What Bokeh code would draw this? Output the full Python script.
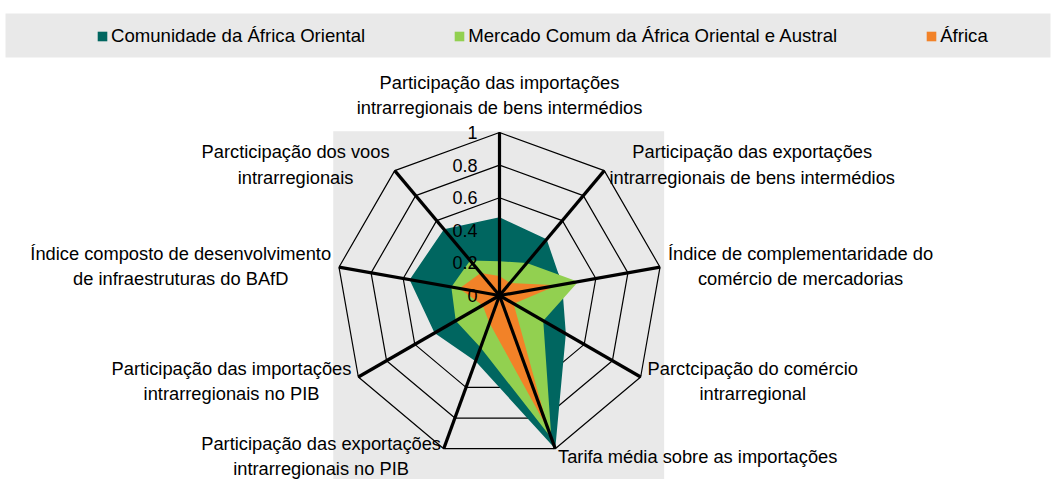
import numpy as np
from bokeh.plotting import figure
from bokeh.models import Range1d, Legend, LegendItem
from bokeh.core.properties import value
from bokeh.embed import file_html
from bokeh.resources import INLINE

# ---------------- data ----------------
categories = [
    "Participação das importações\nintrarregionais de bens intermédios",
    "Participação das exportações\nintrarregionais de bens intermédios",
    "Índice de complementaridade do\ncomércio de mercadorias",
    "Parctcipação do comércio\nintrarregional",
    "Tarifa média sobre as importações",
    "Participação das exportações\nintrarregionais no PIB",
    "Participação das importações\nintrarregionais no PIB",
    "Índice composto de desenvolvimento\nde infraestruturas do BAfD",
    "Parcticipação dos voos\nintrarregionais",
]
eac = [0.48, 0.45, 0.39, 0.47, 1.00, 0.43, 0.46, 0.56, 0.53]
comesa = [0.21, 0.26, 0.49, 0.31, 0.93, 0.34, 0.31, 0.30, 0.28]
africa = [0.12, 0.10, 0.36, 0.10, 0.88, 0.18, 0.12, 0.25, 0.18]
series_names = ["Comunidade da África Oriental",
                "Mercado Comum da África Oriental e Austral",
                "África"]
series_colors = ["#006660", "#92D050", "#F28228"]
ticks = [0, 0.2, 0.4, 0.6, 0.8, 1.0]
tick_labels = ["0", "0.2", "0.4", "0.6", "0.8", "1"]

# ---------------- layout ----------------
W, H = 1055, 479
R_PX = 163.0           # pixels per data unit (radius of 1.0)
CX, CY = 499, 295      # centre of radar in figure pixels
PX = 1.0 / R_PX
FONT_NAME = "Liberation Sans"
FONT = value(FONT_NAME)

p = figure(width=W, height=H, output_backend="svg", toolbar_location=None,
           x_axis_type=None, y_axis_type=None,
           x_range=Range1d(-CX * PX, (W - CX) * PX),
           y_range=Range1d(-(H - CY) * PX, CY * PX),
           min_border=0, min_border_left=0, min_border_right=0,
           min_border_top=0, min_border_bottom=0)
p.outline_line_color = None
p.xgrid.visible = False
p.ygrid.visible = False
p.background_fill_color = "white"
p.border_fill_color = "white"

GRAY = "#E9E9E9"
# legend band
p.quad(left=(5 - CX) * PX, right=(1050 - CX) * PX,
       top=(CY - 13) * PX, bottom=(CY - 57) * PX,
       fill_color=GRAY, line_color=None)
# plot-area band behind the radar
p.quad(left=-1.02, right=1.01, top=1.007, bottom=p.y_range.start,
       fill_color=GRAY, line_color=None)

n = len(categories)
theta = np.arange(n) * 2 * np.pi / n
sx, cy_ = np.sin(theta), np.cos(theta)

# grid rings
for t in ticks[1:]:
    xs = list(t * sx) + [t * sx[0]]
    ys = list(t * cy_) + [t * cy_[0]]
    p.line(xs, ys, line_color="black", line_width=1.2)

# series
renderers = []
for vals, col in zip([eac, comesa, africa], series_colors):
    v = np.array(vals)
    r = p.patch(list(v * sx), list(v * cy_), fill_color=col, line_color=None)
    renderers.append(r)

# spokes
for i in range(n):
    p.line([0, sx[i]], [0, cy_[i]], line_color="black", line_width=3.2)

# tick labels
p.text(x=[-22 * PX] * len(ticks), y=ticks, text=tick_labels,
       text_font=FONT, text_font_size="18px", text_color="black",
       text_align="right", text_baseline="middle")

# category labels
for i, lab in enumerate(categories):
    if abs(sx[i]) < 0.01:
        off = 14 * PX
        anchor = "bottom_center"
    elif sx[i] > 0:
        off = 8 * PX
        anchor = "center_left"
    else:
        off = 8 * PX
        anchor = "center_right"
    x = sx[i] * (1 + off)
    y = cy_[i] * (1 + off)
    p.text(x=[x], y=[y], text=[lab], text_font=FONT, text_font_size="18.3px",
           text_color="black", anchor=anchor, text_align="center",
           text_line_height=1.2)

legend = Legend(items=[LegendItem(label=nm, renderers=[r])
                       for nm, r in zip(series_names, renderers)],
                orientation="horizontal", location=(96, H - 47),
                glyph_width=12, glyph_height=12, label_standoff=3,
                spacing=88, padding=0, margin=0,
                background_fill_alpha=0, border_line_alpha=0,
                label_text_font=FONT_NAME, label_text_font_size="18.6px",
                label_text_color="black")
p.add_layout(legend)

open("out.html", "w").write(file_html(p, INLINE))
